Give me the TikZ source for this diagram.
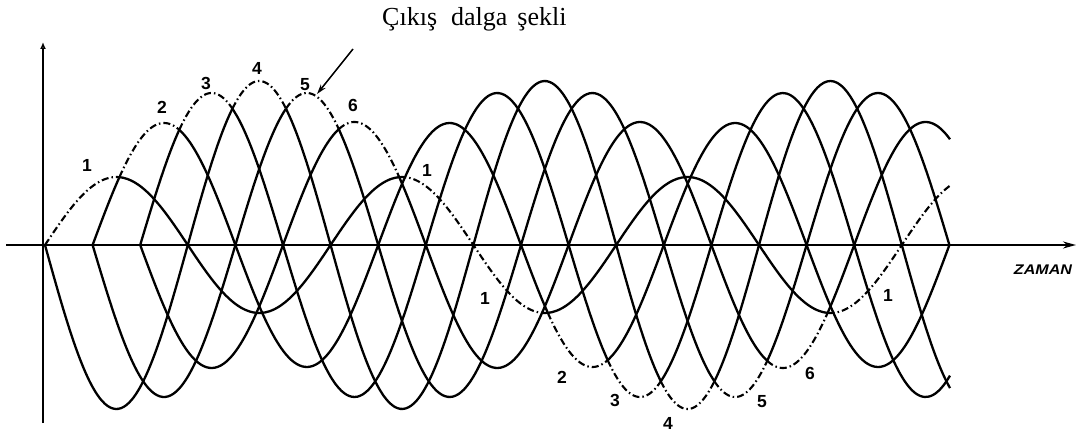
\documentclass[tikz,border=0pt]{standalone}
\usepackage{fontspec}
\setmainfont{Liberation Serif}
\setsansfont{Liberation Sans}
\usetikzlibrary{arrows.meta}
\tikzset{
  wave/.style={line width=2.3pt, line join=round},
  outwave/.style={line width=2.1pt, dash pattern=on 7pt off 3pt on 1.5pt off 3pt},
  axisline/.style={line width=1.8pt},
  lbl/.style={font=\sffamily\bfseries\fontsize{17.5}{17.5}\selectfont, inner sep=0pt},
}
% #1 style, #2 amplitude, #3 rising zero, #4 from, #5 to
\newcommand\wavepart[5]{\draw[#1] plot[domain=#4:#5, samples=70, smooth, variable=\t] (\t,{245-(#2)*sin(1.260504*(\t-(#3)))});}
\begin{document}
\begin{tikzpicture}[x=1pt,y=-1pt]
\useasboundingbox (0,0) rectangle (1081,433);
% axes
\coordinate (xl) at (6,245);
\coordinate (xr) at (1076,245);
\coordinate (yb) at (43,423);
\coordinate (yt) at (43,42);
\draw[axisline,-{Stealth[length=13pt,width=7pt]}] (xl) -- (xr);
\draw[axisline,-{Latex[open,length=7pt,width=6pt]}] (yb) -- (yt);
% wave A
\wavepart{outwave}{68}{45}{45}{119.4}
\wavepart{wave}{68}{45}{119.4}{399.2}
\wavepart{outwave}{68}{45}{399.2}{547.8}
\wavepart{wave}{68}{45}{547.8}{827.6}
\wavepart{outwave}{68}{45}{827.6}{950}
% wave B
\wavepart{wave}{122}{92.6}{92.6}{119.4}
\wavepart{outwave}{122}{92.6}{119.4}{179.3}
\wavepart{wave}{122}{92.6}{179.3}{547.8}
\wavepart{outwave}{122}{92.6}{547.8}{607.7}
\wavepart{wave}{122}{92.6}{607.7}{949.4}
% wave C
\wavepart{wave}{152}{140.2}{140.2}{179.3}
\wavepart{outwave}{152}{140.2}{179.3}{232.4}
\wavepart{wave}{152}{140.2}{232.4}{607.7}
\wavepart{outwave}{152}{140.2}{607.7}{660.8}
\wavepart{wave}{152}{140.2}{660.8}{950}
% wave D
\wavepart{wave}{-164}{45}{45}{232.4}
\wavepart{outwave}{-164}{45}{232.4}{286}
\wavepart{wave}{-164}{45}{286}{660.8}
\wavepart{outwave}{-164}{45}{660.8}{714.4}
\wavepart{wave}{-164}{45}{714.4}{950}
% wave E
\wavepart{wave}{-152}{92.6}{92.6}{286}
\wavepart{outwave}{-152}{92.6}{286}{338.8}
\wavepart{wave}{-152}{92.6}{338.8}{714.4}
\wavepart{outwave}{-152}{92.6}{714.4}{767.2}
\wavepart{wave}{-152}{92.6}{767.2}{949.4}
% wave F
\wavepart{wave}{-123}{140.2}{140.2}{338.8}
\wavepart{outwave}{-123}{140.2}{338.8}{399.2}
\wavepart{wave}{-123}{140.2}{399.2}{767.2}
\wavepart{outwave}{-123}{140.2}{767.2}{827.6}
\wavepart{wave}{-123}{140.2}{827.6}{950}
% labels upper
\node[lbl] (u1) at (87,165) {1};
\node[lbl] (u2) at (162,107) {2};
\node[lbl] (u3) at (206,83) {3};
\node[lbl] (u4) at (257,68) {4};
\node[lbl] (u5) at (305,85) {5};
\node[lbl] (u6) at (353,105) {6};
\node[lbl] (u7) at (427,170) {1};
% labels lower
\node[lbl] (l1) at (485,298) {1};
\node[lbl] (l2) at (562,377) {2};
\node[lbl] (l3) at (615,400) {3};
\node[lbl] (l4) at (668,423) {4};
\node[lbl] (l5) at (762,402) {5};
\node[lbl] (l6) at (810,373) {6};
\node[lbl] (l7) at (888,295) {1};
% title and pointer
\node[anchor=base west, inner sep=0pt, font=\fontsize{26}{26}\selectfont] (title) at (382,26) {Çıkış\hspace{14pt}dalga\hspace{10pt}şekli};
\coordinate (ptail) at (353,49);
\coordinate (phead) at (317,94);
\draw[line width=1.5pt,-{Stealth[length=10pt,width=6pt]}] (ptail) -- (phead);
% axis label
\node[font=\sffamily\bfseries\itshape\fontsize{14}{14}\selectfont, xscale=1.15, inner sep=0pt] (zaman) at (1043,270) {ZAMAN};
\end{tikzpicture}
\end{document}
